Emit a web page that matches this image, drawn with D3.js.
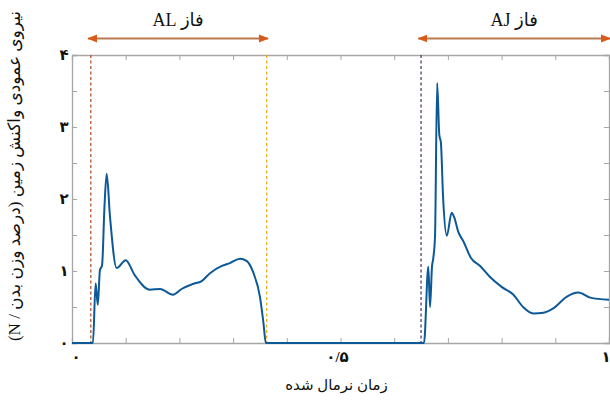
<!DOCTYPE html>
<html><head><meta charset="utf-8">
<script src="https://cdn.jsdelivr.net/npm/d3@7"></script>
<style>
html,body{margin:0;padding:0;background:#fff;}
svg{display:block;}
</style></head>
<body>
<svg id="chart" width="610" height="403"></svg>
<script>
// ---- data ----
const timeNorm = [0,0.039,0.044,0.048,0.052,0.056,0.0605,0.0646,0.0708,0.0832,0.100,0.117,0.145,0.164,0.188,0.204,0.225,0.2415,0.257,0.279,0.294,0.313,0.325,0.337,0.350,0.3565,0.361,
  0.652,0.6555,0.6635,0.6667,0.6704,0.6728,0.676,0.680,0.684,0.687,0.691,0.698,0.707,0.712,0.719,0.729,0.743,0.760,0.778,0.800,0.822,0.840,0.859,0.878,0.896,0.921,0.943,0.965,1.0];
const grf = [0,0,0.83,0.53,1.01,1.08,1.9,2.35,1.75,1.04,1.15,0.94,0.74,0.75,0.67,0.75,0.82,0.86,0.97,1.07,1.11,1.17,1.14,0.99,0.64,0.28,0,
  0,0,1.06,0.5,1.06,1.18,1.48,3.61,2.89,2.78,2.03,1.49,1.81,1.74,1.55,1.41,1.18,1.07,0.92,0.78,0.67,0.50,0.41,0.42,0.48,0.64,0.70,0.63,0.60];
const phaseLines = [0.035, 0.3625, 0.65];
const phaseLineColors = ["#b5532a", "#e6b020", "#5a3a6a"];
const phases = [{label:"فاز AL", from:0.03, to:0.365}, {label:"فاز AJ", from:0.645, to:1.002}];
const xTickLabels = ["۰","۰/۵","۱"];
const xTickValues = [0,0.5,1];
const yTickLabels = ["۰","۱","۲","۳","۴"];
const yTickValues = [0,1,2,3,4];
const xTitle = "زمان نرمال شده";
const yTitle = "نیروی عمودی واکنش زمین (درصد وزن بدن / N)";

// ---- layout ----
const svg = d3.select("#chart");
const L = 72, R = 609, T = 55, B = 343;
const x = d3.scaleLinear().domain([0,1]).range([L,R]);
const y = d3.scaleLinear().domain([0,4]).range([B,T]);
const serif = "'Liberation Serif','DejaVu Sans',serif";

// axes frame with inward ticks
const axisColor = "#a6a6a6";
const xt = d3.range(0,1.0001,0.1);
const yt = d3.range(0,4.0001,0.5);
const gB = svg.append("g").attr("transform",`translate(0,${B})`)
  .call(d3.axisBottom(x).tickValues(xt).tickSize(-5).tickFormat(""));
const gT = svg.append("g").attr("transform",`translate(0,${T})`)
  .call(d3.axisTop(x).tickValues(xt).tickSize(-5).tickFormat(""));
const gL = svg.append("g").attr("transform",`translate(${L},0)`)
  .call(d3.axisLeft(y).tickValues(yt).tickSize(-5).tickFormat(""));
const gR = svg.append("g").attr("transform",`translate(${R},0)`)
  .call(d3.axisRight(y).tickValues(yt).tickSize(-5).tickFormat(""));
[gB,gT,gL,gR].forEach(g=>{
  g.selectAll("path.domain").attr("stroke",axisColor).attr("stroke-width",1.3);
  g.selectAll(".tick line").attr("stroke",axisColor).attr("stroke-width",1);
});

// tick labels
svg.append("g").selectAll("text").data(xTickValues).join("text")
  .attr("x",(d,i)=>x(d)+(i===0?4:-3)).attr("y",362)
  .attr("text-anchor","middle").attr("font-family",serif).attr("font-size",15).attr("font-weight","bold")
  .attr("fill","#111").text((d,i)=>xTickLabels[i]);
svg.append("g").selectAll("text").data(yTickValues).join("text")
  .attr("x",64).attr("y",d=>y(d)+5)
  .attr("text-anchor","middle").attr("font-family",serif).attr("font-size",15).attr("font-weight","bold")
  .attr("fill","#111").text((d,i)=>yTickLabels[i]);

// phase dashed lines
svg.append("g").selectAll("line").data(phaseLines).join("line")
  .attr("x1",d=>x(d)).attr("x2",d=>x(d)).attr("y1",y(4)).attr("y2",y(0))
  .attr("stroke",(d,i)=>phaseLineColors[i]).attr("stroke-width",1.3).attr("stroke-dasharray","3,2.5");

// data line
const pts = timeNorm.map((t,i)=>[t,grf[i]]);
svg.append("path").datum(pts)
  .attr("fill","none").attr("stroke","#0d5897").attr("stroke-width",2)
  .attr("stroke-linejoin","round")
  .attr("d", d3.line().x(d=>x(d[0])).y(d=>y(d[1])).curve(d3.curveMonotoneX));

// phase arrows
const defs = svg.append("defs");
defs.append("marker").attr("id","ah").attr("viewBox","0 0 10 10").attr("refX",9).attr("refY",5)
  .attr("markerWidth",5).attr("markerHeight",5).attr("orient","auto-start-reverse")
  .append("path").attr("d","M0,1 L10,5 L0,9 Z").attr("fill","#d95a1a");
const arrowY = 38.5;
svg.append("g").selectAll("line").data(phases).join("line")
  .attr("x1",d=>x(d.from)).attr("x2",d=>Math.min(x(d.to),610)).attr("y1",arrowY).attr("y2",arrowY)
  .attr("stroke","#b87a50").attr("stroke-width",2)
  .attr("marker-start","url(#ah)").attr("marker-end","url(#ah)");
svg.append("g").selectAll("text").data(phases).join("text")
  .attr("x",d=>(x(d.from)+x(d.to))/2).attr("y",26)
  .attr("text-anchor","middle").attr("direction","rtl")
  .attr("font-family",serif).attr("font-size",18).attr("fill","#111")
  .text(d=>d.label);

// axis titles
svg.append("text").attr("x",(L+R)/2-4).attr("y",390)
  .attr("text-anchor","middle").attr("direction","rtl")
  .attr("font-family",serif).attr("font-size",15).attr("fill","#111").text(xTitle);
svg.append("text").attr("transform","translate(20,176) rotate(-90)")
  .attr("text-anchor","middle").attr("direction","rtl")
  .attr("font-family",serif).attr("font-size",17).attr("fill","#111").text(yTitle);
</script>
</body></html>
